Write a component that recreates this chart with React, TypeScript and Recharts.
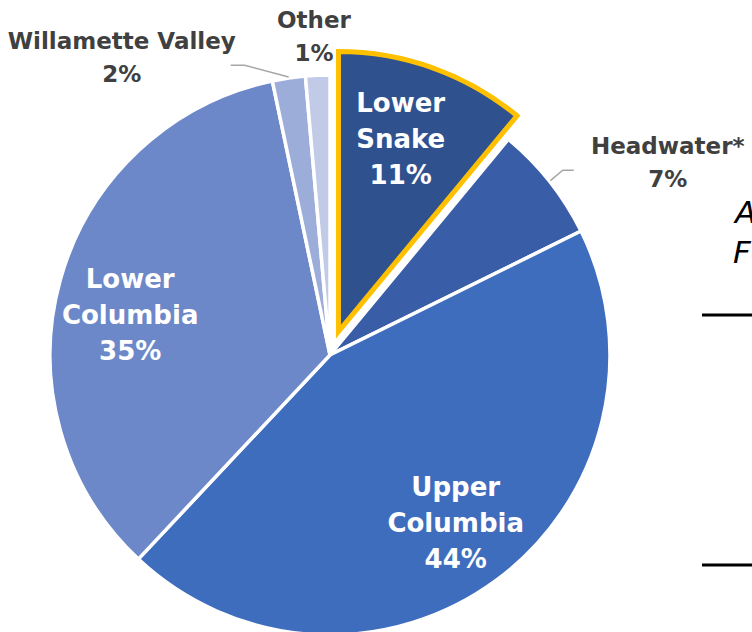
import { PieChart, Pie, Cell } from "recharts";

const REGIONS = ["Lower Snake", "Headwater*", "Upper Columbia", "Lower Columbia", "Willamette Valley", "Other"];
const SHARES = [11.0, 6.7, 44.3, 34.7, 1.9, 1.4];
const COLORS = ["#2F528F", "#3A5DA8", "#3F6DBE", "#6D88C9", "#9CADDA", "#C1CAE7"];
const INSIDE_LABELS = ["Lower Snake", "Upper Columbia", "Lower Columbia"];
const EXPLODED = "Lower Snake";

const data = REGIONS.map((name, i) => ({ name, value: SHARES[i] }));

// geometry
const W = 752;
const H = 632;
const CX = 330;
const CY = 355;
const R = 280;
const RAD = Math.PI / 180;
const FONT = "'DejaVu Sans', sans-serif";

// offset of the pulled-out slice, along its mid angle
const total = SHARES.reduce((a, b) => a + b, 0);
const explodeIdx = REGIONS.indexOf(EXPLODED);
const before = SHARES.slice(0, explodeIdx).reduce((a, b) => a + b, 0);
const explodeMid = 90 - (360 * (before + SHARES[explodeIdx] / 2)) / total;
const EXPLODE_DIST = 25;
const EX = EXPLODE_DIST * Math.cos(explodeMid * RAD);
const EY = -EXPLODE_DIST * Math.sin(explodeMid * RAD);

// small nudges for the inside labels
const INSIDE_SHIFT: Record<string, number[]> = {
  "Lower Snake": [-7, 0],
  "Upper Columbia": [4, 4],
  "Lower Columbia": [-3, 15],
};

// placement of the outside labels: radius factor + horizontal shift, leader relative to label
const OUTSIDE: Record<string, { r: number; dx: number; leader?: number[][] }> = {
  Other: { r: 1.14, dx: -2 },
  "Willamette Valley": { r: 1.075, dx: -164, leader: [[123, 8], [109, 8]] },
  "Headwater*": { r: 1.11, dx: 94, leader: [[-105, 8], [-94, 8]] },
};

const polar = (cx: number, cy: number, r: number, deg: number) => ({
  x: cx + r * Math.cos(-deg * RAD),
  y: cy + r * Math.sin(-deg * RAD),
});

function renderLabel(props: any) {
  const { midAngle, index } = props;
  const name = REGIONS[index];
  const pct = `${Math.round(SHARES[index])}%`;

  if (INSIDE_LABELS.includes(name)) {
    const ox = name === EXPLODED ? EX : 0;
    const oy = name === EXPLODED ? EY : 0;
    const p = polar(CX + ox, CY + oy, R * 0.73, midAngle);
    const [sx, sy] = INSIDE_SHIFT[name] || [0, 0];
    const x = p.x + sx;
    const y = p.y + sy;
    const lines = [...name.split(" "), pct];
    const step = 36;
    return (
      <text
        key={name}
        x={x}
        y={y}
        textAnchor="middle"
        dominantBaseline="central"
        fill="#ffffff"
        fontFamily={FONT}
        fontWeight="bold"
        fontSize={26}
      >
        {lines.map((l, i) => (
          <tspan key={i} x={x} dy={i === 0 ? (-(lines.length - 1) / 2) * step : step}>
            {l}
          </tspan>
        ))}
      </text>
    );
  }

  const cfg = OUTSIDE[name];
  const base = polar(CX, CY, R * cfg.r, midAngle);
  const lx = base.x + cfg.dx;
  const ly = base.y;
  const edge = polar(CX, CY, R + 1, midAngle);
  const step = 33;
  return (
    <g key={name}>
      {cfg.leader && (
        <polyline
          points={[[edge.x, edge.y], ...cfg.leader.map(([a, b]) => [lx + a, ly + b])]
            .map((q) => q.join(","))
            .join(" ")}
          fill="none"
          stroke="#A6A6A6"
          strokeWidth={1.5}
        />
      )}
      <text
        x={lx}
        y={ly}
        textAnchor="middle"
        dominantBaseline="central"
        fill="#404040"
        fontFamily={FONT}
        fontWeight="bold"
        fontSize={23}
      >
        <tspan x={lx} dy={-step / 2}>
          {name}
        </tspan>
        <tspan x={lx} dy={step}>
          {pct}
        </tspan>
      </text>
    </g>
  );
}

export default function App() {
  return (
    <div style={{ position: "absolute", left: 0, top: 0, width: W, height: H, overflow: "hidden", background: "#fff" }}>
      <PieChart width={W} height={H} margin={{ top: 0, right: 0, bottom: 0, left: 0 }}>
        {/* base pie, pulled-out slice left empty */}
        <Pie
          data={data}
          dataKey="value"
          nameKey="name"
          cx={CX}
          cy={CY}
          outerRadius={R}
          startAngle={90}
          endAngle={-270}
          isAnimationActive={false}
          labelLine={false}
        >
          {data.map((d, i) => (
            <Cell
              key={d.name}
              fill={d.name === EXPLODED ? "none" : COLORS[i]}
              stroke={d.name === EXPLODED ? "none" : "#ffffff"}
              strokeWidth={3.5}
            />
          ))}
        </Pie>
        {/* pulled-out slice with highlight border */}
        <Pie
          data={data}
          dataKey="value"
          nameKey="name"
          cx={CX + EX}
          cy={CY + EY}
          outerRadius={R}
          startAngle={90}
          endAngle={-270}
          isAnimationActive={false}
          labelLine={false}
        >
          {data.map((d, i) => (
            <Cell
              key={d.name}
              fill={d.name === EXPLODED ? COLORS[i] : "none"}
              stroke={d.name === EXPLODED ? "#FFC000" : "none"}
              strokeWidth={5}
              strokeLinejoin="miter"
            />
          ))}
        </Pie>
        {/* label layer */}
        <Pie
          data={data}
          dataKey="value"
          nameKey="name"
          cx={CX}
          cy={CY}
          outerRadius={R}
          startAngle={90}
          endAngle={-270}
          isAnimationActive={false}
          labelLine={false}
          label={renderLabel}
        >
          {data.map((d) => (
            <Cell key={d.name} fill="none" stroke="none" />
          ))}
        </Pie>
      </PieChart>
      <svg width={W} height={H} style={{ position: "absolute", left: 0, top: 0, pointerEvents: "none" }}>
        <text x={735} y={223} fontFamily={FONT} fontStyle="italic" fontSize={31} fill="#000">
          A
        </text>
        <text x={733} y={263} fontFamily={FONT} fontStyle="italic" fontSize={31} fill="#000">
          Fo
        </text>
        <line x1={702} y1={315} x2={752} y2={315} stroke="#000" strokeWidth={3} />
        <line x1={702} y1={565} x2={752} y2={565} stroke="#000" strokeWidth={3} />
      </svg>
    </div>
  );
}
